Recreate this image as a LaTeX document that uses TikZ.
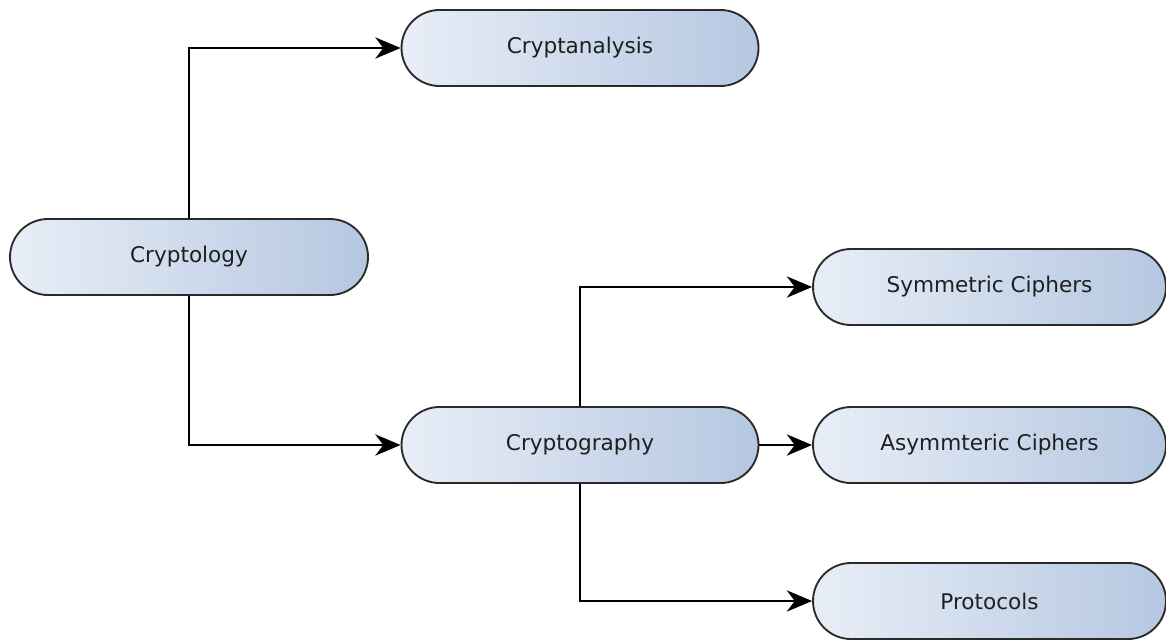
\documentclass[tikz,border=0pt]{standalone}
\usepackage{fontspec}
\setmainfont{DejaVu Sans}
\usetikzlibrary{arrows.meta,shapes.misc}
\definecolor{pillleft}{HTML}{E8EEF7}
\definecolor{pillright}{HTML}{B5C7E1}
\definecolor{pillborder}{HTML}{2A2A2A}
\begin{document}
\begin{tikzpicture}[x=0.75pt,y=-0.75pt,
  pill/.style={rounded rectangle, draw=pillborder, line width=1.4pt,
    left color=pillleft, right color=pillright,
    minimum height=76*0.75pt, inner sep=0pt,
    font=\fontsize{16.2}{19}\selectfont, text=black!88},
  link/.style={draw=black, line width=1.4pt,
    -{Stealth[length=19pt,width=16pt,inset=6pt]}}]
\useasboundingbox (0,0) rectangle (1166,639);

\node[pill, minimum width=358*0.75pt] (ology)  at (189,257) {Cryptology};
\node[pill, minimum width=357*0.75pt] (anal)   at (580,48)  {Cryptanalysis};
\node[pill, minimum width=357*0.75pt] (graphy) at (580,445) {Cryptography};
\node[pill, minimum width=353*0.75pt] (sym)    at (989.5,287) {Symmetric Ciphers};
\node[pill, minimum width=353*0.75pt] (asym)   at (989.5,445) {Asymmteric Ciphers};
\node[pill, minimum width=353*0.75pt] (proto)  at (989.5,601) {Protocols};

\draw[link] (ology.north) |- (anal.west);
\draw[link] (ology.south) |- (graphy.west);
\draw[link] (graphy.north) |- (sym.west);
\draw[link] (graphy.east) -- (asym.west);
\draw[link] (graphy.south) |- (proto.west);
\end{tikzpicture}
\end{document}
